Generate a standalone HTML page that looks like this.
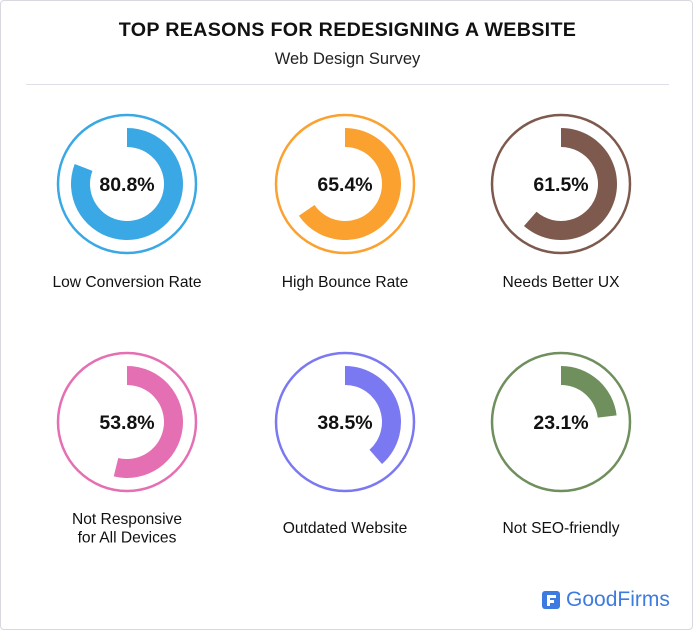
<!DOCTYPE html>
<html><head><meta charset="utf-8"><style>
body{margin:0;background:#fff;font-family:"Liberation Sans",sans-serif;}
#wrap{position:relative;width:691px;height:628px;border:1px solid #d8d8e0;border-radius:4px;overflow:hidden;background:#fff}
.t{position:absolute;left:0;width:693px;text-align:center;color:#111}
</style></head><body>
<div id="wrap">
<div class="t" style="top:18px;font-size:19.7px;font-weight:bold;letter-spacing:0.3px">TOP REASONS FOR REDESIGNING A WEBSITE</div>
<div class="t" style="top:49px;font-size:16.5px;color:#222">Web Design Survey</div>
<div style="position:absolute;left:25px;top:83px;width:643px;height:1px;background:#dde0e6"></div>
<svg id="svg" width="693" height="630" style="position:absolute;left:-1px;top:-1px"></svg>
<div style="position:absolute;left:541px;top:587px;display:flex;align-items:center">
<div style="width:18px;height:18px;background:#3d7be0;border-radius:3px;position:relative"><div style="position:absolute;left:5px;top:4px;width:9px;height:3px;background:#fff"></div><div style="position:absolute;left:5px;top:9px;width:7px;height:3px;background:#fff"></div><div style="position:absolute;left:5px;top:4px;width:3px;height:11px;background:#fff"></div></div>
<span style="margin-left:6px;font-size:21px;color:#3d7be0">GoodFirms</span></div>
</div>
<script>
const categories=["Low Conversion Rate","High Bounce Rate","Needs Better UX","Not Responsive|for All Devices","Outdated Website","Not SEO-friendly"];
const values=[80.8,65.4,61.5,53.8,38.5,23.1];
const colors=["#3aa8e4","#fba130","#7d5a4d","#e56fb3","#7b79f2","#6f8f5c"];
const svg=document.getElementById('svg');const NS="http://www.w3.org/2000/svg";
const cx=[127,345,561],cy=[184,422];
function pt(x,y,r,a){return [x+r*Math.sin(a),y-r*Math.cos(a)];}
values.forEach((v,i)=>{
 const row=Math.floor(i/3);
 const x=cx[i%3],y=cy[row];
 const g=document.createElementNS(NS,'g');
 
 
 const c=document.createElementNS(NS,'circle');
 c.setAttribute('cx',x);c.setAttribute('cy',y);c.setAttribute('r',69);c.setAttribute('fill','none');c.setAttribute('stroke',colors[i]);c.setAttribute('stroke-width',2.5);
 
 
 g.appendChild(c);
 const a=v/100*2*Math.PI,R=56,r=37;
 const p1=pt(x,y,R,0),p2=pt(x,y,R,a),p3=pt(x,y,r,a),p4=pt(x,y,r,0);const L=a>Math.PI?1:0;
 const p=document.createElementNS(NS,'path');
 p.setAttribute('d',`M${p1} A${R},${R} 0 ${L} 1 ${p2} L${p3} A${r},${r} 0 ${L} 0 ${p4}Z`);
 p.setAttribute('fill',colors[i]);
 
 
 g.appendChild(p);
 const t=document.createElementNS(NS,'text');
 t.setAttribute('x',x);t.setAttribute('y',y+7);t.setAttribute('text-anchor','middle');t.setAttribute('font-size','19.5');t.setAttribute('font-weight','bold');t.setAttribute('fill','#111');t.setAttribute('font-family','Liberation Sans, sans-serif');
 t.textContent=v.toFixed(1)+'%';
 
 
 g.appendChild(t);
 const lines=categories[i].split('|');
 const start=row===0?y+103:(lines.length>1?y+102:y+111);
 lines.forEach((line,j)=>{
  const l=document.createElementNS(NS,'text');
  l.setAttribute('x',x);l.setAttribute('y',start+j*18.5);l.setAttribute('text-anchor','middle');l.setAttribute('font-size','15.6');l.setAttribute('fill','#111');l.setAttribute('font-family','Liberation Sans, sans-serif');
  l.textContent=line;
  
  
  g.appendChild(l);
 });
 svg.appendChild(g);
});
</script>
</body></html>
